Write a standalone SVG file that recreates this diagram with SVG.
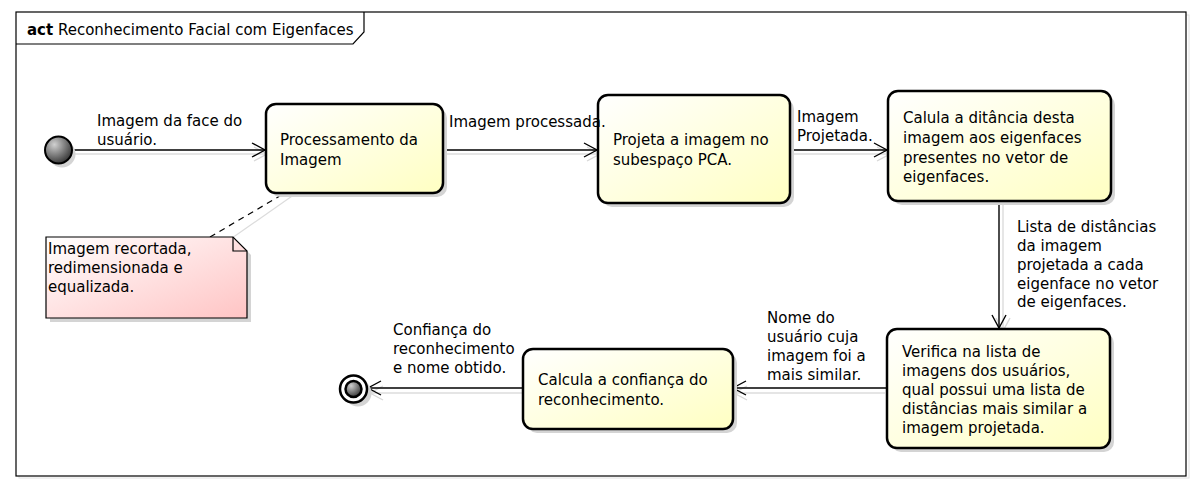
<svg xmlns="http://www.w3.org/2000/svg" width="1202" height="484" viewBox="0 0 1202 484">
<defs>
<linearGradient id="gAct" x1="0" y1="0" x2="1" y2="1">
<stop offset="0" stop-color="#ffffff"/><stop offset="1" stop-color="#ffffc2"/>
</linearGradient>
<linearGradient id="gNote" x1="0" y1="0" x2="1" y2="1">
<stop offset="0" stop-color="#ffffff"/><stop offset="1" stop-color="#ffc4c4"/>
</linearGradient>
<radialGradient id="gNode" cx="0.35" cy="0.3" r="0.8">
<stop offset="0" stop-color="#d0d0d0"/><stop offset="1" stop-color="#282828"/>
</radialGradient>
<marker id="arr" markerUnits="userSpaceOnUse" markerWidth="16" markerHeight="18" viewBox="0 0 16 18" refX="14" refY="9" orient="auto">
<path d="M1,2 L14,9 L1,16" fill="none" stroke="#000" stroke-width="1.4"/>
</marker>
<marker id="arrS" markerUnits="userSpaceOnUse" markerWidth="16" markerHeight="18" viewBox="0 0 16 18" refX="14" refY="9" orient="auto">
<path d="M1,2 L14,9 L1,16" fill="none" stroke="#d8d8d8" stroke-width="1.4"/>
</marker>
</defs>
<style>
text{font-family:"DejaVu Sans","Verdana",sans-serif;font-size:15px;fill:#000}
.box{fill:url(#gAct);stroke:#000;stroke-width:2.5}
.sh{fill:#d4d4d4}
.e{fill:none;stroke:#000;stroke-width:1.4;marker-end:url(#arr)}
.es{fill:none;stroke:#dcdcdc;stroke-width:1.4;marker-end:url(#arrS)}
</style>
<rect x="0" y="0" width="1202" height="484" fill="#fff"/>
<g id="frame">
<rect x="19" y="15" width="1170" height="463" fill="none" stroke="#e0e0e0" stroke-width="1"/>
<rect x="16" y="12" width="1170" height="464" fill="#fff" stroke="#000" stroke-width="1.2"/>
<path d="M16,44 L353,44 L364,32 L364,12" fill="none" stroke="#000" stroke-width="1.2"/>
<text x="27" y="35"><tspan font-weight="bold">act</tspan> Reconhecimento Facial com Eigenfaces</text>
</g>
<g id="connectors">
<line class="es" x1="75" y1="154" x2="267" y2="154"/>
<line class="e" x1="73" y1="150" x2="265" y2="150"/>
<line class="es" x1="445" y1="154" x2="600" y2="154"/>
<line class="e" x1="443" y1="150" x2="597" y2="150"/>
<line class="es" x1="792" y1="154" x2="890" y2="154"/>
<line class="e" x1="790" y1="150" x2="887" y2="150"/>
<line class="es" x1="1003" y1="203" x2="1003" y2="331"/>
<line class="e" x1="999" y1="201" x2="999" y2="328"/>
<line class="es" x1="885" y1="393" x2="734" y2="393"/>
<line class="e" x1="887" y1="388" x2="733" y2="388"/>
<line class="es" x1="523" y1="393" x2="370" y2="393"/>
<line class="e" x1="523" y1="388" x2="368" y2="388"/>
<line x1="222" y1="245" x2="295" y2="194" stroke="#dcdcdc" stroke-width="1.2"/>
<line x1="210" y1="237" x2="285" y2="193" stroke="#000" stroke-width="1.2" stroke-dasharray="6,5"/>
</g>
<g id="start">
<circle cx="62" cy="154" r="13.5" class="sh"/>
<circle cx="58.5" cy="150" r="13.5" fill="url(#gNode)" stroke="#000" stroke-width="2"/>
</g>
<g id="end">
<circle cx="358" cy="393" r="13.5" class="sh"/>
<circle cx="353.5" cy="389" r="13.5" fill="#fff" stroke="#000" stroke-width="2.5"/>
<circle cx="353.5" cy="389" r="8" fill="url(#gNode)" stroke="#000" stroke-width="2.5"/>
</g>
<g id="n1">
<rect x="270" y="108" width="177" height="89" rx="10" class="sh"/>
<rect x="266" y="104" width="177" height="89" rx="10" class="box"/>
<text x="280" y="145">Processamento da</text>
<text x="280" y="165">Imagem</text>
</g>
<g id="note">
<path d="M50,241 L237,241 L251,255 L251,322 L50,322 Z" class="sh"/>
<path d="M46,237 L233,237 L247,251 L247,318 L46,318 Z" fill="url(#gNote)" stroke="#000" stroke-width="1.2"/>
<path d="M233,237 L233,251 L247,251" fill="none" stroke="#000" stroke-width="1.2"/>
<text x="48" y="254">Imagem recortada,</text>
<text x="48" y="273">redimensionada e</text>
<text x="48" y="292">equalizada.</text>
</g>
<g id="n2">
<rect x="602" y="99" width="192" height="108" rx="10" class="sh"/>
<rect x="598" y="95" width="192" height="108" rx="10" class="box"/>
<text x="613" y="145">Projeta a imagem no</text>
<text x="613" y="165">subespaço PCA.</text>
</g>
<g id="n3">
<rect x="892" y="95" width="223" height="110" rx="10" class="sh"/>
<rect x="888" y="91" width="223" height="110" rx="10" class="box"/>
<text x="903" y="123">Calula a ditância desta</text>
<text x="903" y="143">imagem aos eigenfaces</text>
<text x="903" y="163">presentes no vetor de</text>
<text x="903" y="182">eigenfaces.</text>
</g>
<g id="n4">
<rect x="891" y="333" width="223" height="119" rx="10" class="sh"/>
<rect x="887" y="329" width="223" height="119" rx="10" class="box"/>
<text x="902" y="357">Verifica na lista de</text>
<text x="902" y="376">imagens dos usuários,</text>
<text x="902" y="395">qual possui uma lista de</text>
<text x="902" y="414">distâncias mais similar a</text>
<text x="902" y="433">imagem projetada.</text>
</g>
<g id="n5">
<rect x="527" y="353" width="210" height="80" rx="10" class="sh"/>
<rect x="523" y="349" width="210" height="80" rx="10" class="box"/>
<text x="538" y="385">Calcula a confiança do</text>
<text x="538" y="405">reconhecimento.</text>
</g>
<g id="labels">
<text x="97" y="126">Imagem da face do</text>
<text x="97" y="145">usuário.</text>
<text x="449" y="127">Imagem processada.</text>
<text x="797" y="122">Imagem</text>
<text x="797" y="141">Projetada.</text>
<text x="1017" y="232">Lista de distâncias</text>
<text x="1017" y="251">da imagem</text>
<text x="1017" y="270">projetada a cada</text>
<text x="1017" y="289">eigenface no vetor</text>
<text x="1017" y="307">de eigenfaces.</text>
<text x="767" y="323">Nome do</text>
<text x="767" y="342">usuário cuja</text>
<text x="767" y="361">imagem foi a</text>
<text x="767" y="380">mais similar.</text>
<text x="393" y="335">Confiança do</text>
<text x="393" y="354">reconhecimento</text>
<text x="393" y="373">e nome obtido.</text>
</g>
</svg>
